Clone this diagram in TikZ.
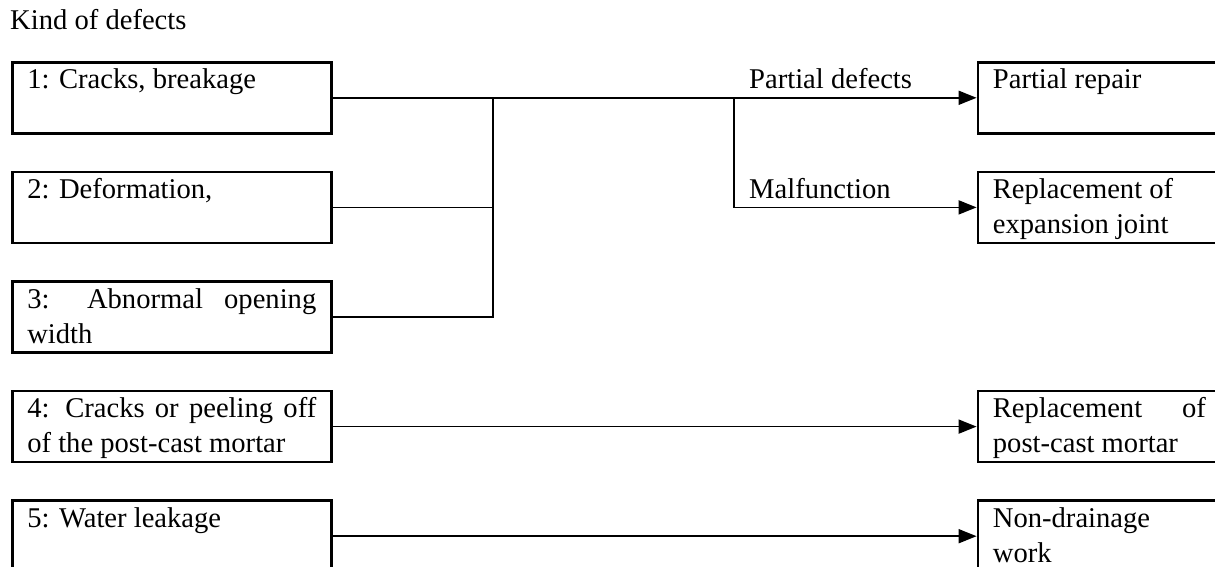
\documentclass[tikz,border=0pt]{standalone}
\usepackage{fontspec}
\setmainfont{Liberation Serif}
\usepackage{tikz}
\usetikzlibrary{positioning,arrows.meta}
\hyphenpenalty=10000
\exhyphenpenalty=10000

\begin{document}
\begin{tikzpicture}[
  x=1pt, y=-1pt,
  defect/.style={draw, line width=2.6pt, text width=289pt, inner xsep=15pt,
                 inner ysep=3.5pt, text height=23pt, text depth=41pt,
                 align=justify, font=\fontsize{28.6}{35}\selectfont},
  remedy/.style={defect, text width=213pt},
  link/.style={line width=1.6pt},
  tag/.style={anchor=base west, inner sep=0pt, font=\fontsize{28.6}{35}\selectfont},
  node distance=36pt,
  >={Triangle[length=18pt, width=14pt]}
]
  \useasboundingbox (0,0) rectangle (1215,567);
  \clip (0,0) rectangle (1215,567);

  \node[tag] (title) at (10,30) {Kind of defects};

  % defects
  \node[defect, anchor=north west] (d1) at (11,61) {1: Cracks, breakage};
  \node[defect, below=of d1] (d2) {2: Deformation,};
  \node[defect, below=of d2] (d3) {3: Abnormal opening width};
  \node[defect, below=of d3] (d4) {4: Cracks or peeling off\linebreak of the post-cast mortar};
  \node[defect, below=of d4] (d5) {5: Water leakage};

  % remedies
  \node[remedy, right=644pt of d1] (r1) {Partial repair};
  \node[remedy, right=644pt of d2] (r2) {Replacement of\\expansion joint};
  \node[remedy, right=644pt of d4] (r4) {Replacement of\linebreak post-cast mortar};
  \node[remedy, right=644pt of d5] (r5) {Non-drainage\\work};

  \coordinate (merge) at (d1.east -| 493,0);
  \coordinate (split) at (d1.east -| 734,0);

  \draw[link, ->] (d1) -- (r1);
  \draw[link] (d2) -- (d2.east -| merge);
  \draw[link] (d3) -| (merge);
  \draw[link, ->] (split) |- (r2);
  \draw[link, ->] (d4) -- (r4);
  \draw[link, ->] (d5) -- (r5);

  \node[tag] (partial) at ([xshift=15pt, yshift=9pt]split) {Partial defects};
  \node[tag] (malfunc) at ([xshift=15pt, yshift=9pt]split |- r2) {Malfunction};
\end{tikzpicture}
\end{document}
